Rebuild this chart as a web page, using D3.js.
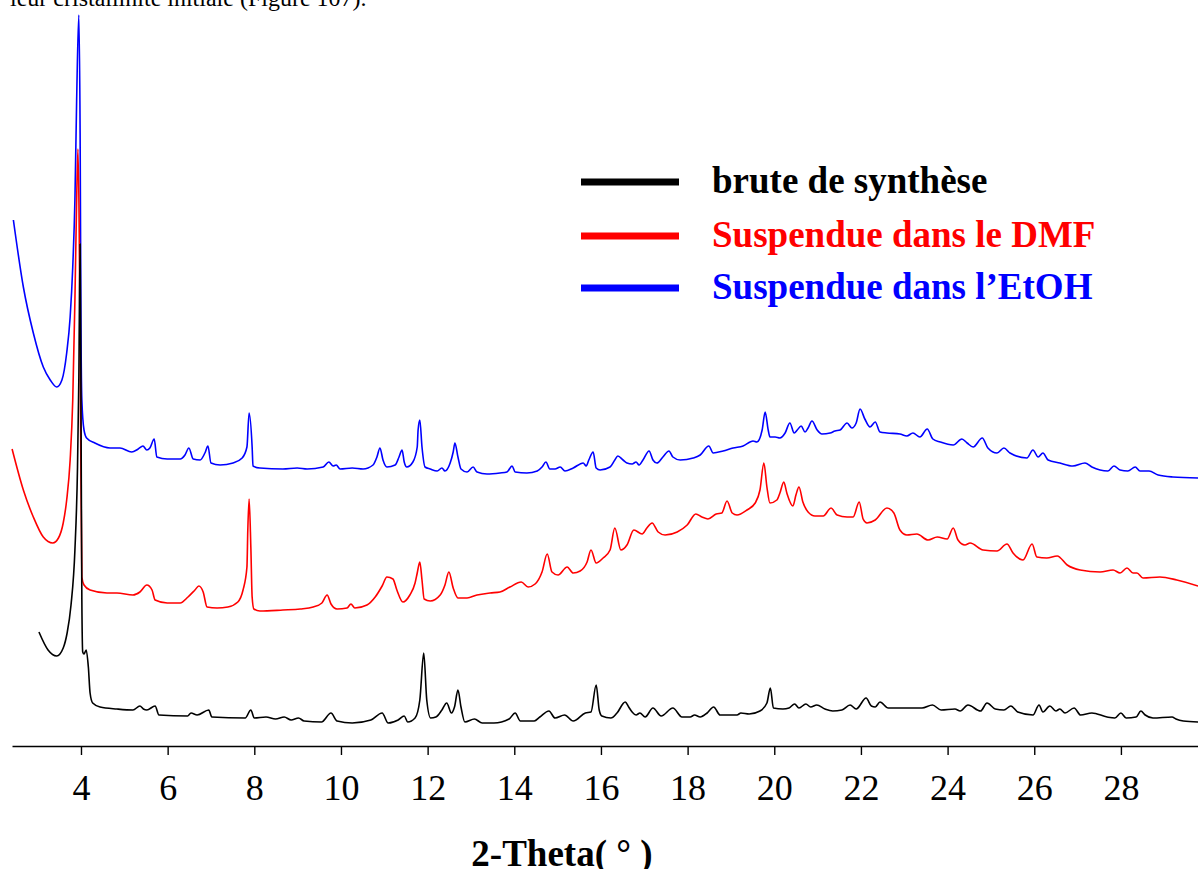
<!DOCTYPE html>
<html>
<head>
<meta charset="utf-8">
<script src="https://cdn.jsdelivr.net/npm/d3@7"></script>
<style>
  html, body { margin: 0; padding: 0; background: #fff; }
  svg { display: block; }
  text { font-family: "Liberation Serif", "Times New Roman", serif; }
</style>
</head>
<body>
<svg id="chart" width="1198" height="869"></svg>
<script>
// PXRD patterns, 2θ (°) vs intensity (a.u., stacked with offsets)
const seriesNames = ["brute de synthèse", "Suspendue dans le DMF", "Suspendue dans l\u2019EtOH"];
const seriesColors = ["#000000", "#ff0000", "#0000ff"];
const tickValues = [4, 6, 8, 10, 12, 14, 16, 18, 20, 22, 24, 26, 28];
const xLabel = "2-Theta( ° )";
const headerText = "leur cristallinité initiale (Figure 107).";

const brute = [
  [3.03,114],[3.24,96],[3.44,90],[3.59,98],[3.68,113],[3.77,141],[3.86,196],[3.92,279],
  [3.95,366],[3.98,502],[4.00,346],[4.02,146],[4.04,94],[4.07,92],[4.12,96],[4.17,79],
  [4.21,53],[4.27,43],[4.44,39],[4.83,37],[5.20,36],[5.36,40],[5.44,37],[5.52,36],
  [5.71,40],[5.80,31],[6.46,30],[6.54,33],[6.68,31],[6.95,36],[7.02,29],[7.79,28],
  [7.92,36],[8.00,28],[8.27,29],[8.49,27],[8.69,29],[8.85,26],[9.02,28],[9.15,25],
  [9.55,24],[9.77,33],[9.91,25],[10.26,23],[10.69,26],[10.95,33],[11.09,23],[11.32,26],
  [11.46,30],[11.54,24],[11.71,28],[11.82,46],[11.91,93],[11.98,46],[12.07,28],[12.19,29],
  [12.33,36],[12.44,43],[12.55,33],[12.62,39],[12.70,56],[12.77,39],[12.86,24],[13.08,27],
  [13.26,23],[13.53,23],[13.88,27],[14.02,33],[14.14,25],[14.46,25],[14.59,29],[14.80,35],
  [14.94,28],[15.16,31],[15.36,25],[15.64,33],[15.77,34],[15.89,61],[15.96,36],[16.02,30],
  [16.23,28],[16.37,33],[16.56,44],[16.64,39],[16.72,34],[16.81,31],[16.90,33],[17.02,29],
  [17.20,38],[17.39,30],[17.66,38],[17.87,29],[18.06,29],[18.16,31],[18.29,29],[18.45,33],
  [18.60,39],[18.75,31],[19.14,31],[19.23,33],[19.42,32],[19.67,35],[19.83,43],[19.91,58],
  [19.98,38],[20.20,37],[20.34,38],[20.47,42],[20.57,38],[20.73,42],[20.84,39],[20.98,41],
  [21.17,37],[21.35,35],[21.56,36],[21.75,41],[21.89,37],[22.12,48],[22.24,40],[22.33,39],
  [22.44,44],[22.63,38],[22.93,38],[23.41,38],[23.65,41],[23.85,36],[24.17,37],[24.29,35],
  [24.47,41],[24.76,35],[24.91,43],[25.10,37],[25.30,36],[25.46,40],[25.62,34],[25.97,31],
  [26.11,41],[26.20,34],[26.36,40],[26.50,35],[26.59,37],[26.71,33],[26.92,38],[27.07,31],
  [27.33,33],[27.68,29],[27.86,28],[28.00,33],[28.12,28],[28.35,29],[28.46,35],[28.56,31],
  [28.74,28],[29.18,29],[29.27,27],[29.44,25],[29.78,24]
];

const dmf = [
  [2.41,297],[2.67,256],[2.90,229],[3.13,209],[3.35,203],[3.48,208],[3.59,223],[3.67,246],
  [3.75,286],[3.81,346],[3.86,446],[3.90,546],[3.93,597],[3.96,513],[3.99,330],[4.02,169],
  [4.07,161],[4.21,156],[4.60,153],[4.83,153],[5.20,151],[5.36,154],[5.52,161],[5.64,156],
  [5.71,146],[5.99,143],[6.29,143],[6.47,149],[6.63,156],[6.72,160],[6.82,154],[6.91,139],
  [7.14,138],[7.39,139],[7.62,144],[7.74,156],[7.83,179],[7.85,216],[7.88,247],[7.92,199],
  [7.95,149],[7.99,137],[8.13,135],[8.66,136],[9.06,137],[9.36,139],[9.56,143],[9.68,151],
  [9.77,142],[9.91,137],[10.14,138],[10.23,142],[10.32,138],[10.60,141],[10.79,149],[10.95,160],
  [11.06,169],[11.20,167],[11.29,156],[11.43,144],[11.59,151],[11.71,163],[11.76,173],[11.82,184],
  [11.87,166],[11.92,147],[12.06,145],[12.29,151],[12.40,161],[12.49,174],[12.59,158],[12.70,148],
  [12.91,148],[13.14,151],[13.44,153],[13.67,154],[13.90,159],[14.16,164],[14.32,159],[14.48,162],
  [14.64,174],[14.76,192],[14.87,174],[15.01,171],[15.22,179],[15.36,173],[15.52,175],[15.68,184],
  [15.77,196],[15.89,183],[16.05,188],[16.21,196],[16.32,218],[16.46,196],[16.60,201],[16.76,216],
  [16.95,212],[17.06,218],[17.18,223],[17.32,214],[17.48,211],[17.76,214],[17.99,221],[18.19,232],
  [18.33,229],[18.47,227],[18.66,232],[18.79,233],[18.91,245],[19.03,233],[19.14,231],[19.37,236],
  [19.56,243],[19.67,256],[19.76,283],[19.83,259],[19.90,243],[20.06,246],[20.13,253],[20.22,264],
  [20.29,253],[20.43,240],[20.50,251],[20.57,259],[20.66,244],[20.78,234],[20.94,230],[21.13,230],
  [21.31,238],[21.45,231],[21.68,229],[21.82,229],[21.96,244],[22.05,227],[22.14,223],[22.33,226],
  [22.60,238],[22.76,233],[22.90,216],[23.06,211],[23.29,212],[23.55,206],[23.76,209],[23.99,207],
  [24.13,218],[24.24,206],[24.40,201],[24.52,203],[24.82,196],[25.14,195],[25.37,202],[25.51,193],
  [25.74,186],[25.95,202],[26.06,189],[26.29,188],[26.53,190],[26.76,181],[27.06,176],[27.52,174],
  [27.82,176],[27.98,173],[28.14,178],[28.28,173],[28.37,173],[28.51,168],[28.90,169],[29.29,166],
  [29.78,160]
];

const etoh = [
  [2.44,526],[2.67,459],[2.90,413],[3.13,379],[3.29,366],[3.44,359],[3.56,366],[3.67,393],
  [3.75,429],[3.81,479],[3.86,546],[3.90,646],[3.95,731],[3.98,613],[4.00,416],[4.02,346],
  [4.07,316],[4.13,308],[4.32,303],[4.67,298],[4.90,298],[5.17,294],[5.32,297],[5.43,300],
  [5.52,296],[5.59,298],[5.69,307],[5.75,289],[5.99,287],[6.29,287],[6.40,291],[6.49,298],
  [6.59,287],[6.75,286],[6.86,293],[6.93,300],[7.00,283],[7.21,281],[7.51,283],[7.72,288],
  [7.83,299],[7.88,333],[7.95,299],[7.97,280],[8.13,278],[8.66,277],[8.99,278],[9.22,277],
  [9.59,279],[9.72,284],[9.82,280],[9.89,281],[9.98,277],[10.26,278],[10.51,277],[10.74,281],
  [10.83,289],[10.90,298],[10.97,286],[11.06,279],[11.25,281],[11.34,289],[11.41,296],[11.46,284],
  [11.52,279],[11.66,284],[11.76,299],[11.78,316],[11.82,326],[11.87,299],[11.94,279],[12.06,277],
  [12.22,275],[12.33,278],[12.40,275],[12.52,283],[12.59,294],[12.63,303],[12.70,289],[12.77,277],
  [12.91,274],[13.05,279],[13.14,274],[13.37,272],[13.67,273],[13.83,274],[13.95,280],[14.02,274],
  [14.29,273],[14.53,275],[14.64,279],[14.73,284],[14.82,277],[14.94,277],[15.06,279],[15.17,275],
  [15.36,278],[15.59,283],[15.66,280],[15.72,286],[15.82,294],[15.89,278],[15.98,276],[16.21,279],
  [16.32,286],[16.39,290],[16.51,286],[16.60,283],[16.72,282],[16.81,284],[16.88,281],[16.97,286],
  [17.11,295],[17.20,286],[17.29,283],[17.43,289],[17.57,295],[17.66,289],[17.83,286],[18.13,288],
  [18.29,291],[18.49,300],[18.59,293],[18.82,295],[19.05,298],[19.28,300],[19.51,305],[19.60,304],
  [19.72,316],[19.79,334],[19.86,316],[19.90,309],[20.02,309],[20.13,308],[20.25,313],[20.36,323],
  [20.46,313],[20.53,316],[20.62,320],[20.71,314],[20.78,318],[20.87,325],[20.99,316],[21.10,312],
  [21.29,313],[21.40,315],[21.52,316],[21.68,323],[21.79,318],[21.89,323],[21.98,337],[22.09,327],
  [22.21,319],[22.33,324],[22.44,314],[22.60,313],[22.90,312],[23.06,310],[23.20,313],[23.36,309],
  [23.53,317],[23.66,307],[23.83,304],[24.13,301],[24.33,307],[24.45,303],[24.59,299],[24.80,308],
  [24.93,298],[25.14,293],[25.30,298],[25.44,293],[25.83,288],[25.97,296],[26.09,289],[26.20,293],
  [26.32,286],[26.59,283],[26.89,280],[27.17,283],[27.33,279],[27.70,275],[27.84,280],[27.98,276],
  [28.16,275],[28.33,279],[28.44,275],[28.65,275],[28.86,271],[29.20,269],[29.78,268]
];

const patterns = [brute, dmf, etoh];

const svg = d3.select("#chart");

const x = d3.scaleLinear().domain([2.408, 29.779]).range([12, 1198]);
const y = d3.scaleLinear().domain([0, 730]).range([746, 16]);

// header line of the surrounding document text
svg.append("text")
  .attr("x", 10).attr("y", 6)
  .attr("font-size", 24)
  .attr("fill", "#000")
  .text(headerText);

const line = d3.line()
  .x(d => x(d[0]))
  .y(d => y(d[1]))
  .curve(d3.curveMonotoneX);

// draw EtOH first, then DMF, then the as-synthesized pattern on top
[2, 1, 0].forEach(i => {
  svg.append("path")
    .datum(patterns[i])
    .attr("fill", "none")
    .attr("stroke", seriesColors[i])
    .attr("stroke-width", 1.6)
    .attr("stroke-linejoin", "round")
    .attr("d", line);
});

// x axis
const axis = d3.axisBottom(x)
  .tickValues(tickValues)
  .tickSize(9)
  .tickSizeOuter(0)
  .tickFormat(d3.format("d"));

const gx = svg.append("g")
  .attr("transform", `translate(0,${y(0)})`)
  .call(axis);

gx.select(".domain").attr("stroke", "#000").attr("stroke-width", 1.6);
gx.selectAll(".tick line").attr("stroke", "#000").attr("stroke-width", 1.4);
gx.selectAll(".tick text")
  .attr("font-family", "'Liberation Serif', 'Times New Roman', serif")
  .attr("font-size", 36)
  .attr("fill", "#000")
  .attr("dy", null)
  .attr("y", 54);

svg.append("text")
  .attr("x", 562).attr("y", 866)
  .attr("text-anchor", "middle")
  .attr("font-size", 37)
  .attr("font-weight", "bold")
  .attr("fill", "#000")
  .text(xLabel);

// legend
const legendRows = [182, 236, 288];
const legend = svg.append("g");
seriesNames.forEach((name, i) => {
  legend.append("line")
    .attr("x1", 581).attr("x2", 679)
    .attr("y1", legendRows[i]).attr("y2", legendRows[i])
    .attr("stroke", seriesColors[i])
    .attr("stroke-width", 7);
  legend.append("text")
    .attr("x", 712).attr("y", legendRows[i] + 11)
    .attr("font-size", 37)
    .attr("font-weight", "bold")
    .attr("fill", seriesColors[i])
    .text(name);
});
</script>
</body>
</html>
